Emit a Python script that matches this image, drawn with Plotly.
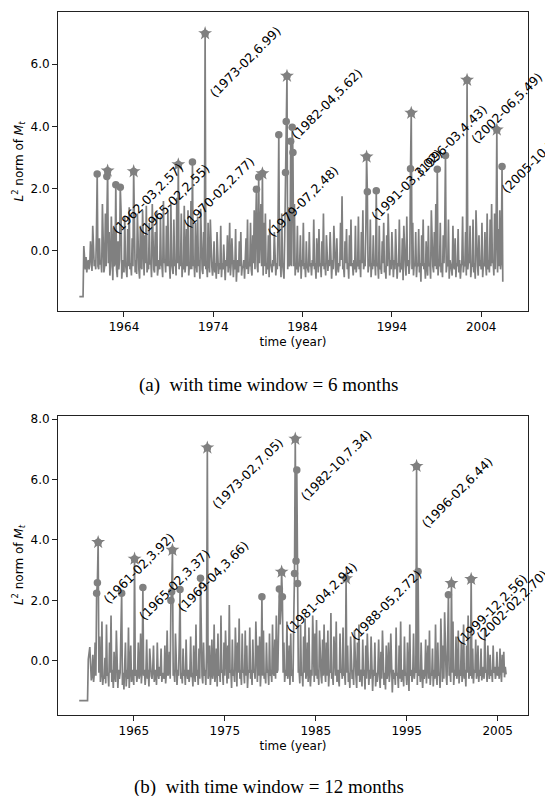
import plotly.graph_objects as go

# ---------------- data (monthly series, first month 1959-01) ----------------
top_start_year = 1959
top_values = [
    -1.48, -1.48, -1.48, -1.48, -1.48, -1.48, 0.15, -0.35, -0.6, -0.2, -0.7, -0.4,   # 1959
    -0.3, -0.6, -0.45, 0.3, -0.5, -0.65, 0.8, -0.4, -0.5, -0.3, -0.6, 0.55,          # 1960
    2.47, -0.5, -0.6, 0.4, -0.45, -0.3, -0.7, 1.5, -0.4, -0.7, -0.5, 1.2,            # 1961
    -0.5, 2.39, 2.57, -0.4, 0.6, -0.8, -0.5, 1.1, -0.6, -0.95, 0.75, -0.5,           # 1962
    -0.4, 2.12, -0.6, -0.85, 0.3, -0.6, -0.3, 2.04, 1.3, -0.9, -0.5, -0.3,           # 1963
    -0.7, 1.1, -0.4, -0.6, -0.85, 0.7, -0.5, 1.4, -0.6, -0.4, -0.8, 0.4,             # 1964
    -0.5, 2.55, -0.5, -0.7, -0.3, -0.75, 1.2, -0.4, -0.6, -0.9, 0.8, -0.5,           # 1965
    -0.6, 1.3, -0.5, -0.8, 0.5, -0.4, 1.45, -0.7, -0.5, -0.6, 0.9, -0.45,            # 1966
    -0.3, -0.85, 1.5, -0.4, -0.6, -0.7, 0.6, -0.5, 1.25, -0.8, -0.4, -0.3,           # 1967
    -0.6, 1.1, -0.45, -0.5, -0.85, 1.6, -0.4, -0.3, -0.7, 0.8, -0.5, 1.3,            # 1968
    -0.5, -0.4, -0.9, 1.55, -0.4, -0.6, -0.75, 1.0, -0.5, -0.3, -0.8, 1.7,           # 1969
    -0.4, 2.77, -0.6, -0.3, -0.5, 1.2, -0.85, -0.4, -0.6, 1.45, -0.7, -0.4,          # 1970
    0.7, -0.5, 1.3, -0.8, -0.4, -0.6, 1.6, -0.6, 2.85, -0.5, -0.3, -0.85,            # 1971
    0.9, -0.4, -0.7, 1.1, -0.5, -0.3, -0.9, 1.35, -0.4, -0.6, -0.75, 0.6,            # 1972
    -0.5, 6.99, -0.6, -0.4, -0.85, 0.9, -0.4, -0.7, 1.0, -0.45, -0.5, -0.8,          # 1973
    -0.5, 0.3, -0.7, -0.4, -0.9, 0.6, -0.5, -0.75, -0.4, -0.6, 0.8, -0.85,           # 1974
    -0.4, -0.6, 0.2, -0.5, -0.95, -0.3, -0.5, 0.5, -0.7, -0.4, 0.9, -0.8,            # 1975
    -0.4, 0.4, -0.6, -0.85, -0.3, -0.6, 0.7, -1.0, -0.5, -0.3, -0.7, 0.3,            # 1976
    -0.5, 0.6, -0.8, -0.5, -0.55, -0.3, -0.9, -0.4, 0.4, -0.6, 1.0, -0.75,           # 1977
    -0.4, -0.5, 0.9, -0.6, -0.8, 0.5, -0.4, 1.3, -0.6, 0.8, 1.98, -0.5,              # 1978
    -0.7, 2.37, -0.4, 0.6, 1.5, -0.5, 2.48, -0.8, 0.9, -0.5, 1.2, -0.75,             # 1979
    -0.4, -0.6, 0.5, -0.85, 1.0, -0.4, -0.6, -0.7, -0.3, -0.5, 0.6, -0.5,            # 1980
    -0.8, -0.4, -0.6, 0.8, 3.73, -0.5, -0.3, -0.85, 1.2, -0.4, -0.6, -0.9,           # 1981
    0.5, 2.52, 4.16, 5.62, -0.6, 1.4, -0.5, -0.4, 3.52, -0.5, 3.97, 3.16,            # 1982
    -0.5, 1.5, -0.8, -0.4, -0.6, 0.8, -0.7, -0.4, -0.5, 0.5, -0.9, -0.3,             # 1983
    -0.5, 0.9, -0.6, -0.4, -0.85, 0.3, -0.5, -0.6, -0.7, 0.6, -0.5, -0.4,            # 1984
    -0.8, -0.3, -0.5, 1.0, -0.6, -0.4, -0.9, 0.4, -0.5, -0.7, 0.7, -0.5,             # 1985
    -0.4, -0.85, 0.3, -0.5, 1.2, -0.6, -0.4, -0.8, 0.5, -0.5, -0.65, -0.3,           # 1986
    -0.5, 0.6, -0.4, -0.9, -0.3, -0.6, 0.8, -0.4, -0.5, -0.8, 0.4, -0.5,             # 1987
    -0.7, -0.4, -0.5, 0.9, -0.3, 1.75, -0.6, -0.5, -0.85, 0.3, -0.4, 0.7,            # 1988
    -0.6, -0.4, -0.9, 0.5, -0.5, 1.0, -0.5, -0.4, -0.8, -0.3, -0.6, 0.8,             # 1989
    -0.7, -0.4, -0.5, 1.1, -0.6, -0.3, -0.85, 0.6, -0.4, 1.3, -0.6, -0.4,            # 1990
    -0.5, 0.7, 3.02, 1.90, -0.7, -0.4, -0.5, 1.0, -0.85, -0.4, -0.6, 0.5,            # 1991
    -0.5, -0.3, -0.8, 1.93, -0.5, -0.4, -0.9, 0.8, -0.6, -0.5, -0.75, 0.3,           # 1992
    -0.4, 0.9, -0.7, -0.5, -0.9, 0.5, -0.5, 1.2, -0.4, -0.8, -0.3, -0.6,             # 1993
    0.6, -0.4, -0.85, -0.3, -0.6, 0.7, -0.5, -0.9, -0.4, -0.5, 1.0, -0.7,            # 1994
    -0.4, -0.6, 0.4, -0.95, 0.8, -0.4, -0.5, -0.8, 1.1, -0.5, -0.3, -0.75,           # 1995
    -0.4, 2.64, 4.43, -0.6, 0.9, -0.8, -0.4, -0.5, 0.6, -0.85, -0.4, -0.5,           # 1996
    0.7, -0.7, -0.4, -1.0, 0.5, -0.5, 1.0, -0.6, -0.4, -0.9, 0.3, -0.5,              # 1997
    -0.8, 0.8, -0.5, -0.4, -0.9, 1.3, -0.4, -0.5, -0.7, 0.6, -0.5, 1.5,              # 1998
    -0.6, 2.62, -0.8, -0.4, -0.5, 0.9, -0.7, -0.4, -0.85, 0.5, -0.4, 0.7,            # 1999
    3.06, -0.7, -0.4, -0.5, 1.0, -0.9, -0.3, -0.4, -0.6, -0.8, 0.8, -0.5,            # 2000
    -0.6, 0.4, -0.85, -0.4, -0.5, 0.7, -0.7, -0.3, -0.9, -0.5, -0.4, 1.1,            # 2001
    -0.7, -0.4, -0.5, 0.6, -0.8, 5.49, -0.6, -0.3, -0.4, 0.8, -0.85, -0.5,           # 2002
    -0.5, 1.0, -0.7, -0.4, -0.9, 1.3, -0.4, -0.5, -0.8, 0.5, -0.5, -0.3,             # 2003
    -0.6, 0.9, -0.85, -0.4, -0.5, 0.6, -0.4, -0.8, 1.2, -0.6, -0.3, -0.7,            # 2004
    1.0, -0.5, 1.5, -0.4, -0.3, -0.8, 1.2, -0.6, 0.6, 3.89, -0.7, 0.7,               # 2005
    -0.5, 1.3, -0.6, -0.3, 2.71, -1.0,                                               # 2006
]
top_star_dates = ["1962-03", "1965-02", "1970-02", "1973-02", "1979-07",
                  "1982-04", "1991-03", "1996-03", "2002-06", "2005-10"]
top_star_values = [2.57, 2.55, 2.77, 6.99, 2.48, 5.62, 3.02, 4.43, 5.49, 3.89]

bot_start_year = 1959
bot_values = [
    -1.32, -1.32, -1.32, -1.32, -1.32, -1.32, -1.32, -1.32, -1.32, -1.32, -1.32, -1.32,  # 1959
    0.05, 0.35, 0.45, -0.1, -0.65, -0.5, 0.2, -0.7, -0.4, 0.6, -0.5, 2.23,            # 1960
    2.58, 3.92, -0.4, 0.8, -0.7, -0.4, 1.3, -0.8, -0.5, -0.6, 0.1, -0.75,             # 1961
    1.2, -0.5, -0.4, -0.85, 0.6, -0.4, 1.5, -0.7, -0.3, -0.9, 0.3, -0.5,              # 1962
    -0.7, 1.0, -0.4, -0.9, -0.3, -0.6, -0.4, 1.4, 2.23, -0.8, -0.4, -0.95,            # 1963
    -0.4, 0.6, -0.85, -0.3, -0.6, 1.1, -0.9, -0.4, 0.5, -0.7, -0.3, -0.5,             # 1964
    -0.8, 3.37, -0.5, -0.3, -0.7, -0.4, 0.6, -0.6, -0.4, 0.9, -0.75, -0.3,            # 1965
    2.42, -0.5, -0.3, -0.8, -0.4, 0.7, -0.6, -0.3, -0.85, 0.4, -0.4, -0.5,            # 1966
    -0.6, -0.3, 0.5, -0.7, -0.45, -0.3, -0.8, 0.6, -0.4, -0.6, -0.2, -0.5,            # 1967
    0.4, -0.7, -0.4, -0.5, -0.6, 0.5, -0.75, -0.4, 1.0, -0.5, -0.4, 0.3,              # 1968
    -0.6, 1.99, 2.28, 3.66, -0.5, -0.3, -0.7, 0.9, -0.4, -0.8, -0.3, -0.5,            # 1969
    0.6, 2.36, -0.6, -0.4, -0.75, 0.4, -0.5, -0.3, -0.8, 0.7, -0.4, -0.6,             # 1970
    -0.3, -0.7, -0.4, 0.8, -0.55, -0.4, -0.85, 0.5, -0.4, -0.7, 1.2, -0.5,            # 1971
    -0.3, -0.8, 0.4, -0.6, 2.73, -0.4, -0.5, -0.75, 0.6, -0.5, -0.3, -0.8,            # 1972
    0.3, 7.05, -0.6, -0.4, 0.5, -0.8, -0.4, 0.7, -0.6, -0.4, 1.2, -0.7,               # 1973
    -0.4, 0.4, -0.85, 0.9, -0.5, -0.3, -0.7, 1.5, -0.4, -0.3, -0.8, 0.6,              # 1974
    -0.5, 1.0, -0.4, -0.75, 0.5, -0.6, 1.84, -0.4, -0.3, -0.9, 0.7, -0.5,             # 1975
    -0.3, -0.7, 1.1, -0.4, -0.85, 0.6, -0.4, 1.4, -0.6, -0.3, -0.8, 0.9,              # 1976
    -0.4, -0.3, -0.75, 1.0, -0.5, 0.5, -0.9, -0.3, -0.4, 1.1, -0.6, -0.3,             # 1977
    -0.8, 0.7, -0.4, -0.3, -0.6, 1.3, -0.4, -0.7, 0.5, -0.5, 0.8, -0.85,              # 1978
    -0.3, 2.12, -0.5, 1.0, -0.6, -0.4, -0.75, 0.6, -0.4, -0.3, -0.8, 0.9,             # 1979
    -0.5, -0.3, -0.7, 1.2, -0.4, -0.5, 0.7, -0.6, 1.5, -0.4, -0.3, 1.6,               # 1980
    2.37, 1.2, 1.7, 2.94, 2.12, -0.4, 0.6, -0.7, -0.3, -0.5, 1.3, -0.6,               # 1981
    -0.4, 0.5, -0.8, 0.9, -0.5, -0.3, -0.7, 1.4, 2.89, 7.34, 3.30, 6.31,              # 1982
    2.56, -0.4, -0.3, -0.75, 1.2, -0.5, -0.4, -0.85, 0.8, -0.4, 1.4, -0.6,            # 1983
    -0.4, 0.6, -0.7, 1.1, -0.4, -0.85, -0.3, -0.5, 1.5, -0.4, -0.7, 0.9,              # 1984
    -0.5, 1.35, -0.6, -0.3, -0.8, 1.0, -0.4, -0.5, -0.75, 0.7, -0.5, 1.2,             # 1985
    -0.3, -0.7, 0.6, -0.5, 1.0, -0.85, -0.3, -0.4, 1.58, -0.6, -0.4, -0.8,            # 1986
    0.8, -0.4, -0.5, 1.3, -0.7, -0.3, -0.5, -0.85, 0.9, -0.4, -0.3, -0.6,             # 1987
    1.1, -0.5, -0.4, -0.8, 2.72, -0.4, 0.5, -0.7, -0.4, -0.9, 0.8, -0.3,              # 1988
    -0.6, -0.3, -0.8, 1.0, -0.4, -0.5, -0.9, 0.6, -0.5, 1.2, -0.7, -0.3,              # 1989
    -0.4, -0.85, 0.7, -0.5, -0.3, -0.95, 0.5, -0.6, 0.9, -0.4, -0.8, -0.3,            # 1990
    -0.6, 0.8, -0.4, -1.0, -0.3, -0.5, 0.6, -0.85, -0.4, -0.7, -0.3, 0.7,             # 1991
    -0.5, -0.9, 0.3, -0.6, 1.0, -0.4, -0.8, -0.4, -0.95, 0.5, -0.6, -0.4,             # 1992
    0.6, -0.7, -0.4, 0.9, -0.85, -1.05, -0.3, -0.6, -0.4, -0.8, 1.1, -0.5,            # 1993
    -0.4, -0.9, 0.5, -0.6, 1.3, -0.7, -0.4, -0.3, -0.85, 0.8, -0.5, -0.4,             # 1994
    -0.8, 0.6, -0.4, -1.0, 1.2, -0.5, -0.3, -0.7, -0.4, 0.9, -0.6, -0.3,              # 1995
    -0.4, 6.44, -0.8, 2.95, -0.5, -0.3, -0.7, 0.6, -0.4, -0.9, -0.3, -0.6,            # 1996
    -0.4, 0.7, -0.75, -0.3, 0.5, -0.6, 1.0, -0.8, -0.4, -0.5, 0.4, -0.85,             # 1997
    -0.3, -0.6, 1.2, -0.4, -0.8, 0.6, -0.5, -0.4, -0.9, 1.4, -0.3, -0.7,              # 1998
    0.5, -0.6, 1.6, -0.4, -0.5, -0.8, 1.5, 2.18, -0.5, -0.3, -0.7, 2.56,              # 1999
    -0.4, 1.3, -0.8, -0.3, -0.5, 0.8, -0.6, -0.4, 1.0, -0.75, -0.3, -0.5,             # 2000
    0.6, -0.7, -0.4, 1.2, -0.6, -0.3, -0.85, 0.5, -0.4, 1.5, -0.6, -0.3,              # 2001
    -0.5, 2.70, -0.6, 0.4, -0.75, -0.3, -0.4, 0.7, -0.6, -0.4, 0.5, -0.7,             # 2002
    -0.3, -0.5, 0.4, -0.65, -0.4, -0.2, -0.6, 1.1, -0.4, -0.3, -0.7, 0.5,             # 2003
    -0.3, -0.6, 0.2, -0.5, -0.3, -0.7, 0.5, -0.4, -0.2, -0.6, -0.4, 0.3,              # 2004
    -0.5, -0.2, -0.6, 0.4, -0.3, -0.7, 0.2, -0.4, 0.3, -0.55, -0.2, -0.45,            # 2005
]
bot_star_dates = ["1961-02", "1965-02", "1969-04", "1973-02", "1981-04",
                  "1982-10", "1988-05", "1996-02", "1999-12", "2002-02"]
bot_star_values = [3.92, 3.37, 3.66, 7.05, 2.94, 7.34, 2.72, 6.44, 2.56, 2.70]

top_xticks = [1964, 1974, 1984, 1994, 2004]
bot_xticks = [1965, 1975, 1985, 1995, 2005]
top_yticks = [0, 2, 4, 6]
bot_yticks = [0, 2, 4, 6, 8]
marker_threshold = 1.9
captions = ["(a)\u00a0\u00a0with time window = 6 months",
            "(b)\u00a0\u00a0with time window = 12 months"]

assert len(top_values) == 570, len(top_values)
assert len(bot_values) == 564, len(bot_values)

# ---------------- helpers ----------------
def month_axis(start_year, n):
    return [start_year + i / 12.0 for i in range(n)]

def date_to_x(d):
    y, m = d.split("-")
    return int(y) + (int(m) - 1) / 12.0

GREY = "#808080"
FONT = "DejaVu Sans"

fig = go.Figure()

panels = [
    (top_start_year, top_values, top_star_dates, top_star_values, "x", "y"),
    (bot_start_year, bot_values, bot_star_dates, bot_star_values, "x2", "y2"),
]
for start, vals, sdates, svals, xa, ya in panels:
    xs = month_axis(start, len(vals))
    fig.add_trace(go.Scatter(x=xs, y=vals, mode="lines",
                             line=dict(color=GREY, width=1.7),
                             xaxis=xa, yaxis=ya, showlegend=False, hoverinfo="skip"))
    cx = [x for x, v in zip(xs, vals) if v >= marker_threshold]
    cy = [v for v in vals if v >= marker_threshold]
    fig.add_trace(go.Scatter(x=cx, y=cy, mode="markers",
                             marker=dict(symbol="circle", size=7.5, color=GREY),
                             xaxis=xa, yaxis=ya, showlegend=False))
    sx = [date_to_x(d) for d in sdates]
    fig.add_trace(go.Scatter(x=sx, y=svals, mode="markers",
                             marker=dict(symbol="star", size=10.5, color=GREY),
                             xaxis=xa, yaxis=ya, showlegend=False))
    for d, x, v in zip(sdates, sx, svals):
        fig.add_annotation(x=x, y=v - 2, xref=xa, yref=ya,
                           text=f"({d},{v:.2f})", showarrow=False,
                           textangle=-45, xanchor="left", yanchor="bottom",
                           xshift=-1, yshift=-7,
                           font=dict(family=FONT, size=12.5, color="black"))

W, H = 545, 796
xdom = [58 / W, 528 / W]
axis_common = dict(showline=True, mirror=True, linecolor="#222", linewidth=1,
                   ticks="outside", ticklen=5, tickwidth=1, tickcolor="#222",
                   showgrid=False, zeroline=False, automargin=False,
                   tickfont=dict(family=FONT, size=12, color="black"))
ytitle = "<i>L</i><sup>2</sup> norm of <i>M</i><sub><i>t</i></sub>"

fig.update_layout(
    width=W, height=H,
    margin=dict(l=0, r=0, t=0, b=0, autoexpand=False),
    paper_bgcolor="white", plot_bgcolor="white",
    font=dict(family=FONT, size=12, color="black"),
    xaxis=dict(domain=xdom, range=[1956.61, 2009.24], tickvals=top_xticks,
               anchor="y", title=dict(text="time (year)", standoff=4,
                                      font=dict(family=FONT, size=12)),
               **axis_common),
    yaxis=dict(domain=[1 - 311 / H, 1 - 12 / H], range=[-1.94, 7.68],
               tickvals=top_yticks, tickformat=".1f", anchor="x",
               title=dict(text=ytitle, standoff=4, font=dict(family=FONT, size=12)),
               **axis_common),
    xaxis2=dict(domain=xdom, range=[1956.67, 2008.33], tickvals=bot_xticks,
                anchor="y2", title=dict(text="time (year)", standoff=4,
                                        font=dict(family=FONT, size=12)),
                **axis_common),
    yaxis2=dict(domain=[1 - 714.5 / H, 1 - 415.7 / H], range=[-1.78, 8.11],
                tickvals=bot_yticks, tickformat=".1f", anchor="x2",
                title=dict(text=ytitle, standoff=4, font=dict(family=FONT, size=12)),
                **axis_common),
)

fig.add_annotation(x=268 / W, y=1 - 385.2 / H, xref="paper", yref="paper",
                   text=captions[0], showarrow=False, xanchor="center", yanchor="middle",
                   font=dict(family="Liberation Serif", size=19, color="black"))
fig.add_annotation(x=268.5 / W, y=1 - 787.0 / H, xref="paper", yref="paper",
                   text=captions[1], showarrow=False, xanchor="center", yanchor="middle",
                   font=dict(family="Liberation Serif", size=19, color="black"))

fig.write_html("out.html", config={"displayModeBar": False},
               post_script="document.body.style.margin='0px';document.body.style.padding='0px';")
